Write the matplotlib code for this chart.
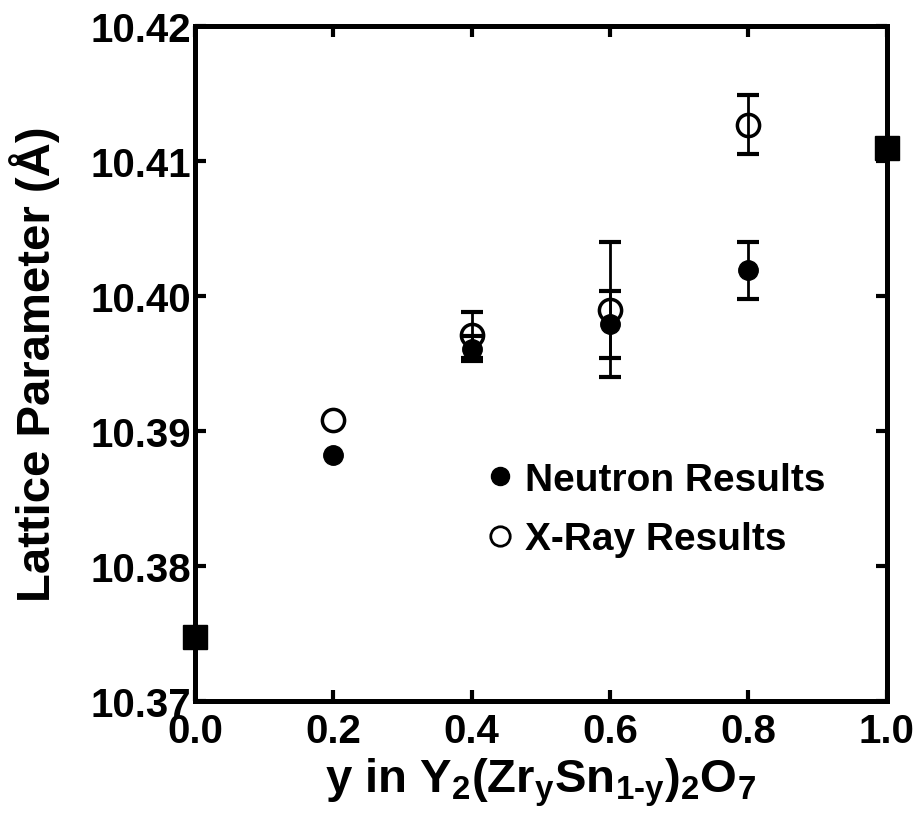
import matplotlib
matplotlib.use("Agg")
import matplotlib.pyplot as plt
from matplotlib.lines import Line2D

plt.rcParams["font.family"] = ["Liberation Sans", "DejaVu Sans"]
plt.rcParams["font.weight"] = "bold"
plt.rcParams["mathtext.fontset"] = "custom"
plt.rcParams["mathtext.rm"] = "Liberation Sans:bold"
plt.rcParams["mathtext.it"] = "Liberation Sans:bold"
plt.rcParams["mathtext.bf"] = "Liberation Sans:bold"
plt.rcParams["mathtext.default"] = "rm"

# neutron results (error None = no bar drawn)
y_neutron = [0.2, 0.4, 0.6, 0.8]
a_neutron = [10.3882, 10.3961, 10.3979, 10.4019]
err_neutron = [None, 0.0009, 0.0025, 0.0021]

# x-ray results
y_xray = [0.2, 0.4, 0.6, 0.8]
a_xray = [10.3908, 10.3971, 10.3990, 10.4127]
err_xray = [None, 0.0017, 0.0050, 0.0022]

# end members
y_end = [0.0, 1.0]
a_end = [10.3747, 10.4110]

xticks = [0.0, 0.2, 0.4, 0.6, 0.8, 1.0]
yticks = [10.37, 10.38, 10.39, 10.40, 10.41, 10.42]

fig = plt.figure(figsize=(9.18, 8.2), dpi=100)
ax = fig.add_axes([0.2124, 0.144, 0.7536, 0.823])


def with_err(xs, ys, es):
    keep = [i for i, e in enumerate(es) if e is not None]
    return [xs[i] for i in keep], [ys[i] for i in keep], [es[i] for i in keep]


# error bars only where given
for xs, ys, es in [(y_neutron, a_neutron, err_neutron), (y_xray, a_xray, err_xray)]:
    bx, by, be = with_err(xs, ys, es)
    ax.errorbar(bx, by, yerr=be, fmt="none", ecolor="black",
                elinewidth=2, capsize=8, capthick=3, zorder=2)

ax.plot(y_neutron, a_neutron, "o", color="black", markersize=14, zorder=3)
ax.plot(y_xray, a_xray, "o", color="black", markerfacecolor="none",
        markeredgewidth=2.5, markersize=16, zorder=3)
ax.plot(y_end, a_end, "s", color="black", markersize=17, clip_on=False, zorder=4)

ax.set_xlim(0.0, 1.0)
ax.set_ylim(10.37, 10.42)
ax.set_xticks(xticks)
ax.set_xticklabels([f"{v:.1f}" for v in xticks])
ax.set_yticks(yticks)
ax.set_yticklabels([f"{v:.2f}" for v in yticks])

for s in ax.spines.values():
    s.set_linewidth(3.6)
ax.tick_params(direction="in", length=8, width=3, top=True, right=True,
               labelsize=29)
ax.tick_params(axis="x", pad=8)
ax.tick_params(axis="y", pad=3)

ax.set_xlabel(r"y in Y$_2$(Zr$_y$Sn$_{1\text{-}y}$)$_2$O$_7$", fontsize=34,
              fontweight="bold", labelpad=4)
ax.set_ylabel("Lattice Parameter (Å)", fontsize=34, fontweight="bold", labelpad=22)

handles = [
    Line2D([], [], marker="o", linestyle="none", color="black", markersize=13),
    Line2D([], [], marker="o", linestyle="none", color="black",
           markerfacecolor="none", markeredgewidth=2, markersize=14),
]
ax.legend(handles, ["Neutron Results", "X-Ray Results"], loc="lower left",
          bbox_to_anchor=(0.39, 0.19), frameon=False, fontsize=28,
          handletextpad=0.15, handlelength=1.0, labelspacing=0.6,
          borderaxespad=0)

fig.savefig("out.png", dpi=100)
